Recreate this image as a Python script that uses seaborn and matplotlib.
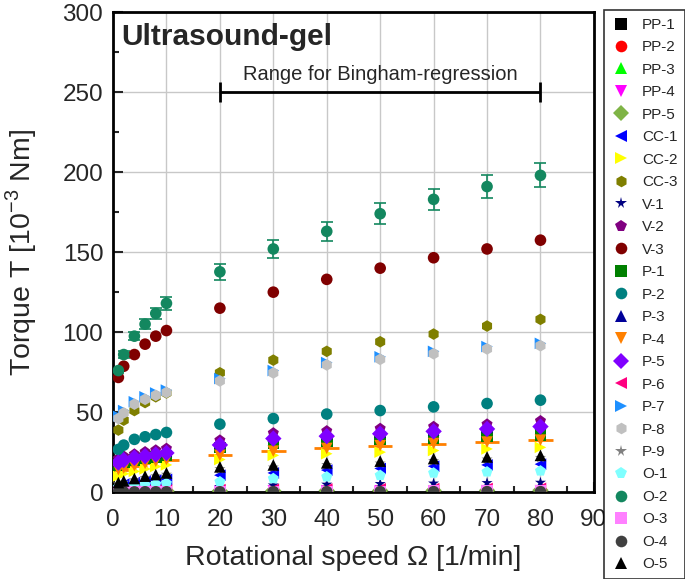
import numpy as np
import pandas as pd
import seaborn as sns
import matplotlib.pyplot as plt
from matplotlib.ticker import MultipleLocator

# rotational speed [1/min]
x_speed = [1, 2, 4, 6, 8, 10, 20, 30, 40, 50, 60, 70, 80]

# torque values [10^-3 Nm]
pp1 = [0.2, 0.2, 0.2, 0.3, 0.3, 0.3, 0.4, 0.4, 0.4, 0.5, 0.5, 0.5, 0.5]
pp2 = [0.1, 0.1, 0.2, 0.2, 0.2, 0.2, 0.3, 0.3, 0.3, 0.3, 0.4, 0.4, 0.4]
pp3 = [0.6, 0.7, 0.8, 0.9, 1.0, 1.0, 1.3, 1.5, 1.6, 1.7, 1.8, 1.9, 2.0]
pp4 = [0.3, 0.3, 0.4, 0.4, 0.5, 0.5, 0.6, 0.7, 0.7, 0.8, 0.8, 0.9, 0.9]
pp5 = [0.4, 0.5, 0.5, 0.6, 0.6, 0.7, 0.8, 0.9, 1.0, 1.0, 1.1, 1.1, 1.2]
cc1 = [4.0, 5.0, 6.0, 7.0, 7.5, 8.0, 10.6, 12.0, 13.8, 14.8, 16.2, 17.0, 17.5]
cc2 = [10.0, 11.5, 13.0, 14.5, 16.0, 17.0, 20.4, 23.0, 24.0, 25.0, 26.0, 27.0, 28.0]
cc3 = [38.8, 45.0, 51.0, 56.0, 59.6, 62.0, 74.6, 82.5, 88.0, 94.0, 98.8, 103.8, 108.0]
v1 = [1.0, 1.3, 1.6, 1.9, 2.1, 2.3, 3.3, 4.3, 4.8, 5.2, 5.5, 5.8, 6.0]
v2 = [21.0, 22.5, 23.8, 25.2, 26.3, 27.3, 32.5, 37.0, 38.3, 39.8, 41.0, 42.5, 44.6]
v3 = [71.7, 78.7, 86.0, 92.5, 97.5, 101.0, 115.0, 125.0, 133.0, 140.0, 146.5, 152.0, 157.5]
p1 = [17.0, 18.5, 20.0, 21.0, 22.0, 23.0, 28.0, 30.5, 32.0, 33.0, 34.0, 35.0, 35.6]
p2 = [26.7, 29.4, 33.0, 34.6, 36.0, 37.3, 42.5, 46.0, 48.8, 51.0, 53.3, 55.4, 57.5]
p3 = [19.5, 21.0, 22.5, 23.5, 24.5, 25.5, 30.5, 35.0, 36.5, 37.5, 39.0, 40.5, 42.5]
p4 = [14.0, 15.0, 16.5, 18.0, 19.3, 20.4, 23.0, 25.6, 27.3, 29.0, 30.4, 31.3, 32.5]
p5 = [18.5, 20.0, 21.5, 22.5, 23.5, 24.5, 29.5, 33.5, 35.0, 36.5, 38.0, 39.5, 41.0]
p6 = [0.8, 0.9, 1.0, 1.1, 1.2, 1.3, 1.6, 1.8, 2.0, 2.1, 2.2, 2.3, 2.4]
p7 = [47.5, 51.0, 56.5, 59.6, 62.0, 63.8, 71.0, 76.0, 81.0, 84.6, 88.0, 91.0, 93.0]
p8 = [46.0, 49.5, 55.0, 58.0, 60.5, 62.3, 69.5, 74.5, 79.5, 83.0, 86.5, 89.5, 91.5]
p9 = [5.0, 6.0, 7.5, 9.0, 10.0, 11.0, 14.5, 15.5, 17.0, 18.0, 19.5, 20.5, 21.5]
o1 = [3.0, 3.5, 4.0, 4.5, 5.0, 5.5, 6.5, 8.5, 9.6, 10.5, 12.0, 12.7, 13.3]
o2 = [76.0, 86.0, 97.5, 105.0, 111.7, 118.0, 137.7, 152.0, 163.0, 174.0, 183.0, 191.0, 198.0]
o2_err = [1.5, 2.0, 2.5, 3.0, 3.5, 4.0, 5.0, 5.5, 6.0, 6.5, 6.5, 7.0, 7.5]
o3 = [0.2, 0.2, 0.3, 0.3, 0.3, 0.4, 0.4, 0.5, 0.5, 0.5, 0.6, 0.6, 0.6]
o4 = [0.1, 0.1, 0.1, 0.2, 0.2, 0.2, 0.2, 0.3, 0.3, 0.3, 0.3, 0.3, 0.3]
o5 = [6.0, 7.0, 8.5, 10.0, 11.0, 12.0, 15.8, 17.0, 18.3, 19.4, 21.0, 22.0, 23.0]
p4_xerr = 2.3  # horizontal bars on P-4

names = ["PP-1", "PP-2", "PP-3", "PP-4", "PP-5", "CC-1", "CC-2", "CC-3",
         "V-1", "V-2", "V-3", "P-1", "P-2", "P-3", "P-4", "P-5", "P-6",
         "P-7", "P-8", "P-9", "O-1", "O-2", "O-3", "O-4", "O-5"]
values = [pp1, pp2, pp3, pp4, pp5, cc1, cc2, cc3, v1, v2, v3, p1, p2, p3,
          p4, p5, p6, p7, p8, p9, o1, o2, o3, o4, o5]
colors = ["#000000", "#ff0000", "#00ff00", "#ff00ff", "#7fb446", "#0000ff",
          "#ffff00", "#7f7f00", "#000080", "#800080", "#800000", "#008000",
          "#008080", "#000099", "#ff8000", "#8000ff", "#ff0080", "#1e90ff",
          "#c0c0c0", "#808080", "#80ffff", "#13875f", "#ff80ff", "#404040",
          "#000000"]
markers = ["s", "o", "^", "v", "D", "<", ">", "h", "*", "p", "o", "s", "o",
           "^", "v", "D", "<", ">", "h", "*", "p", "o", "s", "o", "^"]

df = pd.concat([pd.DataFrame({"speed": x_speed, "torque": v, "sample": n})
                for n, v in zip(names, values)], ignore_index=True)

sns.set_style("white")
plt.rcParams["font.family"] = ["Liberation Sans", "DejaVu Sans"]
plt.rcParams["mathtext.fontset"] = "custom"
plt.rcParams["mathtext.rm"] = "Liberation Sans"

fig = plt.figure(figsize=(6.85, 5.79), dpi=100)
ax = fig.add_axes([0.165, 0.150, 0.702, 0.829])

# grid first so points are on top
ax.grid(True, which="major", color="#c8c8c8", linewidth=1.0)
ax.set_axisbelow(True)

# error bars (O-2 vertical, P-4 horizontal)
ax.errorbar(x_speed, o2, yerr=o2_err, fmt="none", ecolor="#13875f",
            elinewidth=1.2, capsize=4, capthick=1.2, zorder=2)
ax.errorbar(x_speed, p4, xerr=p4_xerr, fmt="none", ecolor="#ff8000",
            elinewidth=2, capsize=0, zorder=2)

sns.scatterplot(data=df, x="speed", y="torque", hue="sample", style="sample",
                palette=dict(zip(names, colors)),
                markers=dict(zip(names, markers)),
                s=70, linewidth=0, ax=ax, zorder=3)

ax.set_xlim(0, 90)
ax.set_ylim(0, 300)
ax.xaxis.set_major_locator(MultipleLocator(10))
ax.xaxis.set_minor_locator(MultipleLocator(5))
ax.yaxis.set_major_locator(MultipleLocator(50))
ax.yaxis.set_minor_locator(MultipleLocator(25))
ax.tick_params(which="both", direction="in", labelsize=17.5, width=1.5,
               top=False, right=False, bottom=True, left=True, pad=7)
ax.tick_params(axis="x", which="major", pad=12)
ax.tick_params(which="major", length=7)
ax.tick_params(which="minor", length=4)
for sp in ax.spines.values():
    sp.set_linewidth(2)
    sp.set_color("black")

ax.set_xlabel("Rotational speed \u03a9 [1/min]", fontsize=20.5, labelpad=10)
ax.set_ylabel("Torque T [10$^{-3}$ Nm]", fontsize=20.5, labelpad=17)

ax.text(1.5, 293, "Ultrasound-gel", fontsize=21.5, fontweight="bold",
        va="top", ha="left")

# range for Bingham regression
ax.errorbar([50], [250], xerr=30, fmt="none", ecolor="black",
            elinewidth=2, capsize=7, capthick=2)
ax.text(50, 255, "Range for Bingham-regression", fontsize=14.5,
        ha="center", va="bottom")

sns.move_legend(ax, "upper left", bbox_to_anchor=(1.021, 1.004),
                borderaxespad=0, title=None, frameon=True, fontsize=11,
                labelspacing=0.555, handletextpad=0.8, handlelength=1.2,
                borderpad=0.5, markerscale=1.0,
                edgecolor="black", fancybox=False)
ax.get_legend().get_frame().set_linewidth(1.2)

fig.savefig("out.png", dpi=100)
